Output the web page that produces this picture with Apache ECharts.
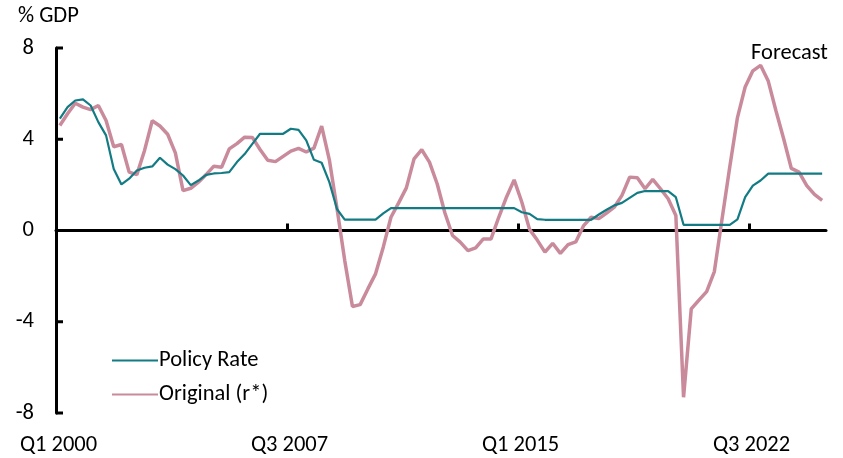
<!DOCTYPE html>
<html>
<head>
<meta charset="utf-8">
<script src="https://cdn.jsdelivr.net/npm/echarts@6/dist/echarts.min.js"></script>
<style>
  html, body { margin: 0; padding: 0; background: #fff; }
  #chart { width: 843px; height: 458px; }
</style>
</head>
<body>
<div id="chart"></div>
<script>
// quarterly, Q1 2000 .. Q4 2024
const startYear = 2000
const quarterCount = 100
const quarters = []
for (let i = 0; i < quarterCount; i++) {
  quarters.push('Q' + (i % 4 + 1) + ' ' + (startYear + Math.floor(i / 4)))
}

const xTickPos = [0, 30, 60, 90] // quarter boundaries from Q1 2000
const xTickLabels = ['Q1 2000', 'Q3 2007', 'Q1 2015', 'Q3 2022']
const yTicks = [-8, -4, 0, 4, 8]
const forecastStart = 87.7 // position of the dashed divider, in quarters

const policyRate = [
  4.90, 5.41, 5.70, 5.75, 5.48, 4.75, 4.17, 2.70, 2.02, 2.27,
  2.63, 2.75, 2.81, 3.19, 2.89, 2.69, 2.41, 1.99, 2.19, 2.44,
  2.50, 2.52, 2.56, 3.00, 3.35, 3.80, 4.24, 4.24, 4.24, 4.24,
  4.46, 4.41, 3.95, 3.10, 2.97, 2.12, 0.93, 0.48, 0.48, 0.48,
  0.48, 0.48, 0.75, 0.98, 0.98, 0.98, 0.98, 0.98, 0.98, 0.98,
  0.98, 0.98, 0.98, 0.98, 0.98, 0.98, 0.98, 0.98, 0.98, 0.98,
  0.80, 0.73, 0.50, 0.47, 0.47, 0.47, 0.47, 0.47, 0.47, 0.47,
  0.70, 0.91, 1.10, 1.21, 1.43, 1.65, 1.73, 1.73, 1.73, 1.73,
  1.46, 0.25, 0.25, 0.25, 0.25, 0.25, 0.25, 0.25, 0.49, 1.46,
  1.97, 2.19, 2.49, 2.49, 2.49, 2.49, 2.49, 2.49, 2.49, 2.49
]

const originalRStar = [
  4.60, 5.12, 5.58, 5.41, 5.30, 5.48, 4.82, 3.67, 3.77, 2.56,
  2.45, 3.51, 4.81, 4.58, 4.22, 3.40, 1.75, 1.85, 2.12, 2.45,
  2.82, 2.77, 3.58, 3.81, 4.09, 4.08, 3.55, 3.08, 3.02, 3.25,
  3.48, 3.60, 3.44, 3.61, 4.58, 3.10, 0.95, -1.32, -3.33, -3.25,
  -2.56, -1.90, -0.73, 0.58, 1.21, 1.87, 3.14, 3.54, 3.00, 2.05,
  0.78, -0.22, -0.51, -0.88, -0.76, -0.37, -0.37, 0.58, 1.46, 2.22,
  1.24, 0.05, -0.42, -0.95, -0.56, -1.00, -0.62, -0.50, 0.20, 0.58,
  0.52, 0.76, 1.02, 1.54, 2.34, 2.31, 1.83, 2.24, 1.83, 1.39,
  0.66, -7.31, -3.44, -3.05, -2.68, -1.80, 0.50, 2.78, 4.95, 6.29,
  7.00, 7.24, 6.55, 5.25, 4.02, 2.72, 2.56, 1.97, 1.58, 1.32
]

const font = 'Carlito, Lato, "Noto Sans", sans-serif'
const fontSize = 22.5
const teal = '#127b83'
const pink = '#c98a9c'

const chart = echarts.init(document.getElementById('chart'), null, { renderer: 'canvas' })

const textGraphics = [
  {
    type: 'text',
    left: 18,
    top: 5,
    style: { text: '% GDP', fontFamily: font, fontSize: fontSize, fill: '#000' }
  },
  {
    type: 'text',
    left: 751,
    top: 42,
    style: { text: 'Forecast', fontFamily: font, fontSize: fontSize, fill: '#000' }
  }
]

const option = {
  animation: false,
  textStyle: { fontFamily: font, color: '#000' },
  grid: { left: 56, right: 17, top: 48, bottom: 45, containLabel: false },
  legend: {
    orient: 'vertical',
    left: 106,
    top: 344,
    itemWidth: 46,
    itemHeight: 14,
    itemGap: 11,
    itemStyle: { opacity: 0 },
    data: ['Policy Rate', 'Original (r*)'],
    textStyle: { fontFamily: font, fontSize: fontSize, color: '#000', padding: [0, 0, 0, -4] }
  },
  xAxis: [
    {
      // the zero line the series are drawn against
      type: 'category',
      data: quarters,
      boundaryGap: true,
      position: 'bottom',
      axisLine: { onZero: true, onZeroAxisIndex: 0, lineStyle: { color: '#000', width: 3 } },
      axisTick: { show: false },
      axisLabel: { show: false },
      splitLine: { show: false }
    },
    {
      // tick marks on the zero line
      type: 'value',
      min: 0,
      max: quarterCount,
      position: 'bottom',
      axisLine: { show: false, onZero: true, onZeroAxisIndex: 1 },
      axisTick: {
        show: true,
        inside: true,
        length: 7,
        customValues: xTickPos.slice(1),
        lineStyle: { color: '#000', width: 3 }
      },
      axisLabel: { show: false },
      splitLine: { show: false }
    },
    {
      // labels along the bottom
      type: 'value',
      min: 0,
      max: quarterCount,
      position: 'bottom',
      axisLine: { show: false, onZero: false },
      axisTick: { show: false },
      splitLine: { show: false },
      axisLabel: {
        margin: 21,
        fontSize: fontSize,
        color: '#000',
        fontFamily: font,
        padding: [0, 0, 0, 5],
        customValues: xTickPos,
        formatter: (v) => xTickLabels[xTickPos.indexOf(v)] || ''
      }
    }
  ],
  yAxis: [
    {
      type: 'value',
      min: yTicks[0],
      max: yTicks[yTicks.length - 1],
      interval: 4,
      axisLine: { show: true, onZero: false, lineStyle: { color: '#000', width: 3 } },
      axisTick: { show: false },
      axisLabel: { show: false },
      splitLine: { show: false }
    },
    {
      // same scale, only used to put the tick axis on zero
      type: 'value',
      min: yTicks[0],
      max: yTicks[yTicks.length - 1],
      show: false,
      axisLine: { onZero: false },
      splitLine: { show: false }
    }
  ],
  graphic: textGraphics,
  series: [
    {
      name: 'Policy Rate',
      type: 'line',
      data: policyRate,
      symbol: 'none',
      lineStyle: { color: teal, width: 2.2 },
      itemStyle: { color: teal },
      z: 3
    },
    {
      name: 'Original (r*)',
      type: 'line',
      data: originalRStar,
      symbol: 'none',
      lineStyle: { color: pink, width: 3.5 },
      itemStyle: { color: pink },
      z: 2
    },
    {
      name: 'forecast',
      type: 'line',
      xAxisIndex: 2,
      yAxisIndex: 0,
      data: [],
      silent: true,
      clip: false,
      markLine: {
        silent: true,
        symbol: 'none',
        label: { show: false },
        lineStyle: { color: '#555', type: [4, 3], width: 1 },
        data: [[{ coord: [forecastStart, 7.2] }, { coord: [forecastStart, -8.45] }]]
      }
    }
  ]
}

chart.setOption(option)

// y axis ticks and labels, placed through the axis scales
const axisX = chart.convertToPixel({ xAxisIndex: 2 }, 0)
const yDecor = []
yTicks.forEach(v => {
  const py = chart.convertToPixel({ yAxisIndex: 0 }, v)
  yDecor.push({
    type: 'line',
    shape: { x1: axisX, y1: py, x2: axisX + 7, y2: py },
    style: { stroke: '#000', lineWidth: 3 },
    z: 10
  })
  yDecor.push({
    type: 'text',
    x: axisX - 22,
    y: py,
    style: {
      text: String(v),
      align: 'right',
      verticalAlign: 'middle',
      fontFamily: font,
      fontSize: fontSize,
      fill: '#000'
    },
    z: 10
  })
})
chart.setOption({ graphic: textGraphics.concat(yDecor) })
</script>
</body>
</html>
